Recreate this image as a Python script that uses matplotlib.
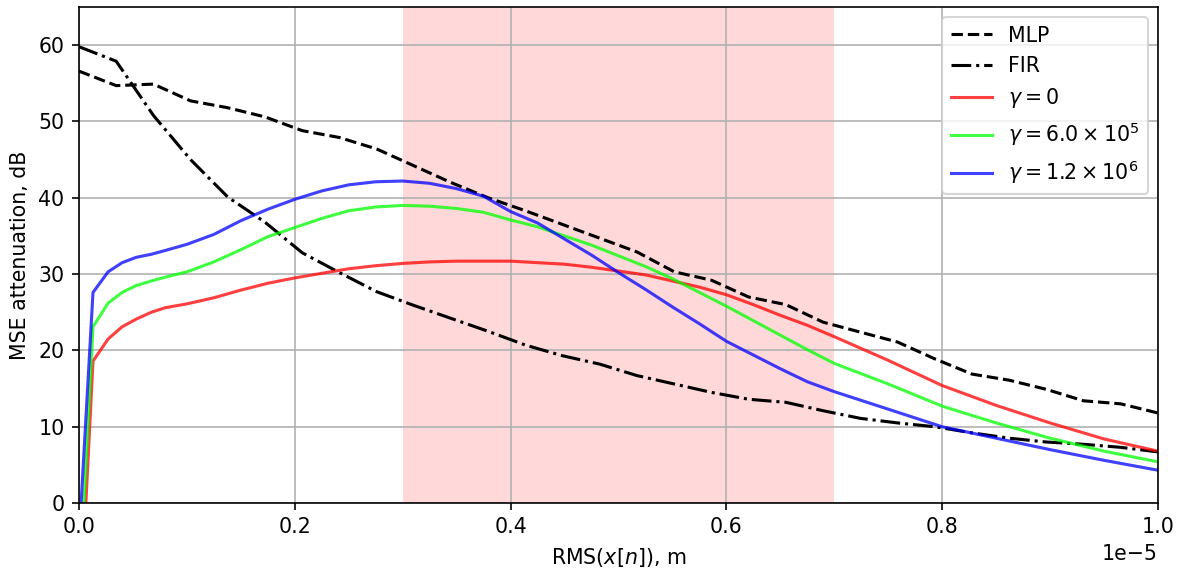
import matplotlib
matplotlib.use('Agg')
import matplotlib.pyplot as plt
import numpy as np

# x in units of 1e-5 m
x_black = np.linspace(0, 1, 30)
mlp = [56.6, 54.7, 54.9, 52.7, 51.8, 50.6, 48.8, 47.9, 46.4, 44.2,
       42.0, 40.0, 38.3, 36.5, 34.7, 32.9, 30.3, 29.2, 27.0, 26.0,
       23.7, 22.4, 21.1, 18.9, 16.9, 16.1, 14.9, 13.4, 13.0, 11.8]
fir = [59.8, 57.9, 50.8, 45.0, 40.1, 36.8, 32.8, 30.2, 27.7, 25.9,
       24.2, 22.5, 20.7, 19.3, 18.2, 16.7, 15.6, 14.5, 13.6, 13.2,
       12.1, 11.1, 10.5, 10.0, 9.2, 8.5, 8.0, 7.7, 7.3, 6.7]

x_gamma = [0, 0.013, 0.027, 0.04, 0.053, 0.067, 0.08, 0.1, 0.125, 0.15,
           0.175, 0.2, 0.225, 0.25, 0.275, 0.3, 0.325, 0.35, 0.375, 0.4,
           0.425, 0.45, 0.475, 0.5, 0.525, 0.55, 0.575, 0.6, 0.625, 0.65,
           0.675, 0.7, 0.75, 0.8, 0.85, 0.9, 0.95, 1.0]
g0 = [-18, 18.6, 21.5, 23.1, 24.1, 25.0, 25.6, 26.1, 26.9, 27.9,
      28.8, 29.5, 30.1, 30.7, 31.1, 31.4, 31.6, 31.7, 31.7, 31.7,
      31.5, 31.3, 30.9, 30.4, 29.9, 29.1, 28.3, 27.3, 26.0, 24.6,
      23.3, 21.8, 18.7, 15.4, 12.8, 10.5, 8.4, 6.8]
g6e5 = [-13, 23.1, 26.2, 27.6, 28.5, 29.1, 29.6, 30.3, 31.6, 33.2,
        34.9, 36.1, 37.3, 38.3, 38.8, 39.0, 38.9, 38.6, 38.1, 37.1,
        36.2, 35.0, 33.8, 32.4, 31.0, 29.4, 27.6, 25.8, 23.9, 22.0,
        20.1, 18.3, 15.6, 12.7, 10.5, 8.5, 6.8, 5.4]
g12e6 = [-5, 27.6, 30.3, 31.5, 32.2, 32.6, 33.1, 33.9, 35.2, 37.0,
         38.5, 39.8, 40.9, 41.7, 42.1, 42.2, 41.9, 41.2, 40.2, 38.2,
         36.7, 34.6, 32.5, 30.2, 28.0, 25.7, 23.5, 21.2, 19.4, 17.6,
         15.9, 14.6, 12.3, 10.0, 8.5, 7.0, 5.6, 4.3]

fig, ax = plt.subplots(figsize=(8, 571 / 148), dpi=148)
fig.subplots_adjust(left=0.0667, right=0.978, top=0.9877, bottom=0.119)

xb = x_black * 1e-5
xg = np.array(x_gamma) * 1e-5

ax.axvspan(0.3e-5, 0.7e-5, color='red', alpha=0.15, lw=0)
ax.plot(xb, mlp, 'k--', label='MLP')
ax.plot(xb, fir, 'k-.', label='FIR')
ax.plot(xg, g0, color='red', alpha=0.75, label=r'$\gamma = 0$')
ax.plot(xg, g6e5, color='lime', alpha=0.75, label=r'$\gamma = 6.0 \times 10^5$')
ax.plot(xg, g12e6, color='blue', alpha=0.75, label=r'$\gamma = 1.2 \times 10^6$')

ax.set_xlim(0, 1e-5)
ax.set_ylim(0, 65)
ax.grid(True)
ax.set_xlabel(r'RMS($x[n]$), m')
ax.set_ylabel('MSE attenuation, dB')
ax.legend(loc='upper right')

fig.savefig('out.png')
